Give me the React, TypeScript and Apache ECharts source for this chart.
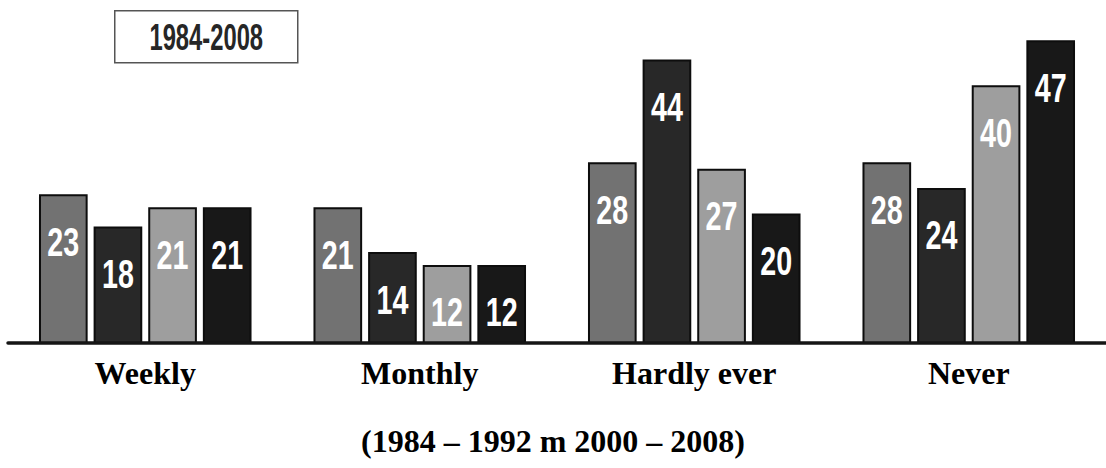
import React, { useEffect, useRef } from "react";
import * as echarts from "echarts";

const categories = ["Weekly", "Monthly", "Hardly ever", "Never"];
const seriesNames = ["1984", "1992", "2000", "2008"];
const values1984 = [23, 21, 28, 28];
const values1992 = [18, 14, 44, 24];
const values2000 = [21, 12, 27, 40];
const values2008 = [21, 12, 20, 47];
const periodLabel = "1984-2008";
const footnote = "(1984 \u2013 1992 m 2000 \u2013 2008)";

const barColors = ["#727272", "#282828", "#9e9e9e", "#181818"];

export default function App() {
  const ref = useRef<HTMLDivElement>(null);
  useEffect(() => {
    document.body.style.margin = "0";
    const chart = echarts.init(ref.current!, null, { renderer: "svg" });
    const allValues = [values1984, values1992, values2000, values2008];
    const nSeries = seriesNames.length;
    chart.setOption({
      animation: false,
      backgroundColor: "#ffffff",
      grid: { left: 8, right: -7, top: 22, bottom: 125, containLabel: false },
      xAxis: {
        type: "category",
        data: categories,
        axisLine: { show: true, lineStyle: { color: "#151515", width: 3.5 } },
        axisTick: { show: false },
        axisLabel: {
          color: "#000",
          fontFamily: "'Liberation Serif', 'Times New Roman', serif",
          fontWeight: "bold",
          fontSize: 32,
          margin: 14,
        },
        z: 5,
      },
      yAxis: {
        type: "value",
        min: 0,
        max: 50,
        show: false,
        splitLine: { show: false },
      },
      title: {
        text: footnote,
        left: "center",
        top: 420,
        textStyle: {
          color: "#000",
          fontFamily: "'Liberation Serif', 'Times New Roman', serif",
          fontWeight: "bold",
          fontSize: 32,
        },
      },
      graphic: [
        {
          type: "group",
          left: 114,
          top: 10,
          children: [
            {
              type: "rect",
              shape: { x: 0, y: 0, width: 183, height: 52 },
              style: { fill: "#fff", stroke: "#555", lineWidth: 1.5 },
            },
            {
              type: "text",
              x: 91.5,
              y: 26,
              scaleX: 0.66,
              style: {
                text: periodLabel,
                fill: "#262626",
                fontFamily: "'Liberation Sans', Arial, sans-serif",
                fontWeight: "bold",
                fontSize: 36,
                align: "center",
                verticalAlign: "middle",
              },
            },
          ],
        },
      ],
      series: seriesNames.map((name, si) => ({
        name,
        type: "custom",
        data: allValues[si].map((v, ci) => [ci, v]),
        encode: { x: 0, y: 1 },
        renderItem: (params: any, api: any) => {
          const ci = api.value(0);
          const v = api.value(1);
          const base = api.coord([ci, 0]);
          const top = api.coord([ci, v]);
          const catW = api.size([1, 0])[0];
          const bw = catW * 0.17;
          const pitch = catW * 0.199;
          const cx = base[0] + (si - (nSeries - 1) / 2) * pitch;
          return {
            type: "group",
            children: [
              {
                type: "rect",
                shape: { x: cx - bw / 2, y: top[1], width: bw, height: base[1] - top[1] },
                style: { fill: barColors[si], stroke: "#0d0d0d", lineWidth: 2 },
              },
              {
                type: "text",
                x: cx,
                y: top[1] + 46,
                scaleX: 0.7,
                style: {
                  text: String(v),
                  fill: "#fff",
                  fontFamily: "'Liberation Sans', Arial, sans-serif",
                  fontWeight: "bold",
                  fontSize: 41,
                  align: "center",
                  verticalAlign: "middle",
                },
              },
            ],
          };
        },
      })),
    });
    return () => chart.dispose();
  }, []);
  return (
    <div
      ref={ref}
      style={{ width: 1106, height: 468, position: "absolute", left: 0, top: 0 }}
    />
  );
}
